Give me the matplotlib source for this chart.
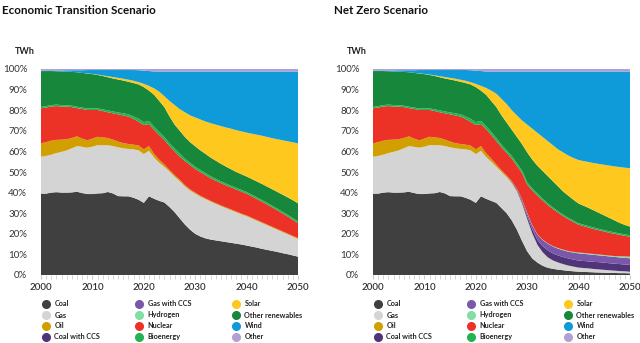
import numpy as np
import matplotlib.pyplot as plt

plt.rcParams['font.family'] = ['Lato', 'DejaVu Sans']

# shared history 2000-2021 (share of generation, %)
hist_years = list(range(2000, 2022))
hist_coal = [39.5, 39.5, 40.0, 40.2, 40.0, 40.0, 40.1, 40.4, 39.8, 39.3, 39.3,
             39.6, 39.7, 40.3, 39.6, 38.3, 38.2, 38.2, 37.5, 36.5, 35.0, 38.2]
hist_gas = [17.9, 18.3, 18.4, 19.0, 19.8, 20.5, 21.4, 22.2, 22.4, 22.5, 23.0,
            23.4, 23.3, 22.7, 23.0, 23.7, 23.3, 23.0, 23.5, 24.0, 23.7, 22.1]
hist_oil = [6.5, 6.7, 6.8, 6.4, 5.9, 5.4, 5.0, 4.7, 4.0, 3.6, 3.9,
            4.1, 3.8, 3.5, 3.1, 2.8, 2.5, 2.4, 2.3, 2.3, 2.3, 2.3]
hist_nuclear = [17.0, 16.8, 16.6, 16.4, 16.1, 15.8, 15.0, 13.7, 14.4, 14.7, 13.9,
                13.0, 12.8, 12.5, 12.8, 13.2, 13.5, 13.3, 12.5, 11.6, 11.8, 10.7]
hist_bio = [0.7, 0.7, 0.7, 0.7, 0.7, 0.7, 0.7, 0.7, 0.7, 0.7, 0.8,
            0.8, 0.8, 0.9, 0.9, 0.9, 1.0, 1.1, 1.2, 1.4, 1.4, 1.5]
hist_oren = [17.4, 17.0, 16.5, 16.2, 16.3, 16.3, 16.4, 16.7, 16.8, 17.0, 16.6,
             16.2, 16.2, 16.1, 16.0, 16.0, 15.9, 15.8, 16.2, 16.7, 17.0, 14.7]
hist_solar = [0.0, 0.0, 0.0, 0.0, 0.0, 0.0, 0.0, 0.0, 0.0, 0.1, 0.1,
              0.2, 0.3, 0.5, 0.7, 0.8, 0.9, 1.0, 1.1, 1.1, 1.6, 2.3]
hist_wind = [0.2, 0.3, 0.3, 0.4, 0.5, 0.7, 0.8, 1.0, 1.3, 1.6, 1.9,
             2.2, 2.6, 3.0, 3.4, 3.8, 4.2, 4.7, 5.2, 5.8, 6.4, 7.2]
hist_other = [0.8, 0.7, 0.7, 0.7, 0.7, 0.6, 0.6, 0.6, 0.6, 0.5, 0.5,
              0.5, 0.5, 0.5, 0.5, 0.5, 0.5, 0.5, 0.5, 0.6, 0.8, 1.0]

proj_years = list(range(2022, 2051))

# Economic Transition 2022-2050
et_coal = [37.0, 36.0, 35.2, 33.0, 30.5, 27.5, 24.5, 22.0, 20.0, 18.7, 17.8, 17.2, 16.8, 16.4, 16.0,
           15.6, 15.2, 14.8, 14.3, 13.8, 13.3, 12.7, 12.2, 11.7, 11.2, 10.6, 10.1, 9.5, 8.9]
et_gas = [20.0, 18.5, 17.3, 17.2, 17.2, 18.0, 18.5, 19.0, 19.5, 19.3, 19.0, 18.4, 17.7, 17.0, 16.4,
          15.8, 15.2, 14.6, 14.2, 13.6, 13.0, 12.5, 11.9, 11.3, 10.7, 10.2, 9.6, 9.1, 8.6]
et_oil = [1.8, 1.5, 1.1, 0.8, 0.8, 0.7, 0.6, 0.6, 0.5, 0.5, 0.4, 0.4, 0.4, 0.4, 0.4,
          0.4, 0.4, 0.4, 0.4, 0.4, 0.4, 0.4, 0.4, 0.4, 0.4, 0.4, 0.4, 0.4, 0.4]
et_nuclear = [11.7, 12.0, 12.0, 11.6, 11.5, 11.3, 11.7, 11.8, 11.5, 11.5, 11.3, 11.0, 10.9, 10.8, 10.7,
              10.7, 10.7, 10.7, 10.6, 10.4, 10.2, 10.0, 9.7, 9.4, 9.1, 8.7, 8.3, 7.8, 7.3]
et_bio = [1.5, 1.5, 1.4, 1.4, 1.5, 1.5, 1.2, 1.1, 1.1, 1.0, 1.0, 1.0, 0.9, 0.9, 0.9,
          0.8, 0.8, 0.8, 0.8, 0.8, 0.8, 0.8, 0.8, 0.8, 0.8, 0.8, 0.8, 0.8, 0.8]
et_oren = [15.5, 15.0, 14.5, 13.0, 11.5, 11.0, 10.5, 10.0, 9.9, 9.5, 9.3, 9.0, 8.8, 8.5, 8.2,
           8.0, 7.7, 7.6, 7.5, 7.6, 7.7, 7.8, 7.9, 8.0, 8.1, 8.3, 8.5, 8.7, 8.8]
et_solar = [3.1, 4.5, 5.3, 7.5, 9.5, 10.5, 12.0, 13.0, 14.0, 15.0, 15.7, 16.7, 17.5, 18.3, 19.0,
            19.7, 20.3, 20.8, 21.3, 22.0, 22.7, 23.4, 24.1, 24.8, 25.6, 26.4, 27.2, 28.1, 29.1]
et_wind = [8.2, 9.8, 12.0, 14.3, 16.3, 18.3, 19.8, 21.3, 22.3, 23.3, 24.3, 25.1, 25.8, 26.5, 27.2,
           27.8, 28.5, 29.1, 29.7, 30.2, 30.7, 31.2, 31.8, 32.4, 32.9, 33.4, 33.9, 34.4, 34.9]
et_other = [1.2] * 29
et_zero = [0.0] * 29

# Net Zero 2022-2050
nz_coal = [37.0, 36.0, 35.0, 32.5, 30.0, 26.5, 22.0, 16.5, 11.5, 8.0, 6.0, 4.5, 3.5, 3.0, 2.6,
           2.3, 2.0, 1.8, 1.6, 1.5, 1.4, 1.3, 1.2, 1.1, 1.0, 1.0, 0.9, 0.9, 0.8]
nz_gas = [20.3, 19.0, 17.5, 17.5, 17.5, 18.0, 18.5, 18.0, 15.5, 12.0, 8.5, 6.5, 5.0, 4.0, 3.4,
          2.9, 2.5, 2.2, 1.9, 1.8, 1.7, 1.6, 1.5, 1.4, 1.3, 1.1, 1.0, 0.9, 0.8]
nz_oil = [1.8, 1.5, 1.1, 0.8, 0.7, 0.6, 0.5, 0.3, 0.2, 0.2, 0.1, 0.1, 0.1, 0.1, 0.1,
          0.1, 0.1, 0.1, 0.1, 0.1, 0.1, 0.0, 0.0, 0.0, 0.0, 0.0, 0.0, 0.0, 0.0]
nz_coal_ccs = [0.0, 0.0, 0.0, 0.0, 0.0, 0.2, 0.5, 0.8, 1.3, 1.8, 2.4, 2.9, 3.4, 3.4, 3.4,
               3.4, 3.4, 3.4, 3.4, 3.4, 3.4, 3.5, 3.5, 3.5, 3.4, 3.4, 3.4, 3.3, 3.3]
nz_gas_ccs = [0.0, 0.0, 0.0, 0.0, 0.1, 0.3, 0.5, 1.0, 1.5, 2.0, 2.5, 3.0, 3.2, 3.3, 3.3,
              3.3, 3.3, 3.4, 3.5, 3.5, 3.4, 3.4, 3.3, 3.3, 3.3, 3.3, 3.2, 3.2, 3.2]
nz_hydrogen = [0.0, 0.0, 0.0, 0.0, 0.0, 0.0, 0.0, 0.1, 0.2, 0.2, 0.2, 0.2, 0.2, 0.2, 0.3,
               0.3, 0.3, 0.3, 0.4, 0.4, 0.4, 0.4, 0.4, 0.4, 0.4, 0.4, 0.6, 0.7, 0.8]
nz_nuclear = [11.7, 11.5, 11.4, 11.2, 11.0, 10.9, 11.0, 12.8, 13.7, 16.8, 18.8, 19.0, 18.6, 18.0, 17.2,
              16.3, 15.5, 14.5, 13.5, 13.0, 12.6, 12.1, 11.8, 11.4, 11.1, 10.8, 10.4, 10.0, 9.7]
nz_bio = [1.5, 1.5, 1.5, 1.3, 1.3, 1.3, 1.3, 1.2, 1.1, 1.0, 1.0, 0.8, 0.8, 0.8, 0.7,
          0.7, 0.7, 0.7, 0.7, 0.7, 0.7, 0.7, 0.7, 0.7, 0.7, 0.7, 0.7, 0.7, 0.7]
nz_oren = [15.2, 15.0, 15.0, 14.2, 13.4, 12.7, 12.7, 12.8, 14.5, 14.0, 13.5, 13.5, 13.2, 12.7, 12.0,
           11.2, 10.7, 10.1, 9.6, 9.2, 8.8, 8.3, 7.7, 7.1, 6.5, 5.8, 5.1, 4.6, 4.2]
nz_solar = [3.3, 5.0, 6.5, 8.0, 9.0, 9.5, 10.5, 11.5, 13.5, 15.0, 16.0, 16.5, 17.0, 17.5, 18.0,
            19.0, 19.5, 20.3, 21.1, 21.7, 22.3, 23.0, 23.8, 24.6, 25.4, 26.2, 27.1, 27.8, 28.3]
nz_wind = [8.0, 9.3, 10.8, 13.3, 15.8, 18.8, 21.3, 23.8, 25.8, 27.8, 29.8, 31.8, 33.8, 35.8, 37.8,
           39.3, 40.8, 42.0, 43.0, 43.5, 44.0, 44.5, 44.9, 45.3, 45.7, 46.1, 46.4, 46.7, 47.0]
nz_other = [1.2] * 29

labels = ['Coal', 'Gas', 'Oil', 'Coal with CCS', 'Gas with CCS', 'Hydrogen',
          'Nuclear', 'Bioenergy', 'Other renewables', 'Solar', 'Wind', 'Other']
colors = ['#404040', '#d4d4d4', '#d29f00', '#4f3479', '#7b57a9', '#7fdfa6',
          '#ec3127', '#1fb552', '#16873b', '#fec81f', '#0f9bd9', '#b1a0d6']
legend_order = ['Coal', 'Gas', 'Oil', 'Coal with CCS', 'Gas with CCS', 'Hydrogen',
                'Nuclear', 'Bioenergy', 'Solar', 'Other renewables', 'Wind', 'Other']

hist_zero = [0.0] * len(hist_years)
years = hist_years + proj_years

et_series = [hist_coal + et_coal, hist_gas + et_gas, hist_oil + et_oil,
             hist_zero + et_zero, hist_zero + et_zero, hist_zero + et_zero,
             hist_nuclear + et_nuclear, hist_bio + et_bio, hist_oren + et_oren,
             hist_solar + et_solar, hist_wind + et_wind, hist_other + et_other]
nz_series = [hist_coal + nz_coal, hist_gas + nz_gas, hist_oil + nz_oil,
             hist_zero + nz_coal_ccs, hist_zero + nz_gas_ccs, hist_zero + nz_hydrogen,
             hist_nuclear + nz_nuclear, hist_bio + nz_bio, hist_oren + nz_oren,
             hist_solar + nz_solar, hist_wind + nz_wind, hist_other + nz_other]

fig = plt.figure(figsize=(6.4, 3.43), dpi=100)
W, H = 640, 343


def panel(x0, series, title):
    ax = fig.add_axes([x0 / W, 68 / H, 257 / W, 206 / H])
    ax.stackplot(years, series, colors=colors, linewidth=0)
    ax.set_xlim(2000, 2050)
    ax.set_ylim(0, 100)
    for s in ax.spines.values():
        s.set_visible(False)
    ax.set_xticks(range(2000, 2051, 10))
    ax.set_xticks(range(2000, 2051), minor=True)
    ax.tick_params(axis='x', which='both', length=3, color='#cccccc', pad=3,
                   labelsize=7, labelcolor='#333333')
    ax.set_yticks(range(0, 101, 10))
    ax.set_yticklabels([f'{v}%' for v in range(0, 101, 10)])
    ax.tick_params(axis='y', length=0, pad=10, labelsize=7, labelcolor='#333333')
    for t in ax.get_xticklabels():
        t.set_fontweight('semibold')
    fig.text((x0 - 39) / W, 1 - 10 / H, title, fontsize=8.4, fontweight='bold',
             ha='left', va='center', color='#111111')
    fig.text((x0 - 26) / W, 1 - 52 / H, 'TWh', fontsize=6.5, fontweight='bold',
             ha='left', va='center', color='#222222')
    # legend, three columns of four
    col_x = [x0 + 5, x0 + 98, x0 + 195]
    row_y = [304, 315, 326, 336.5]
    for i, name in enumerate(legend_order):
        cx = col_x[i // 4]
        cy = row_y[i % 4]
        fig.lines.append(plt.Line2D([cx / W], [1 - cy / H], marker='o', markersize=5.5,
                                    color=colors[labels.index(name)], transform=fig.transFigure))
        fig.text((cx + 8.5) / W, 1 - cy / H, name, fontsize=5.2, fontweight='bold',
                 ha='left', va='center', color='#222222')
    return ax


panel(41, et_series, 'Economic Transition Scenario')
panel(373, nz_series, 'Net Zero Scenario')

fig.savefig('out.png', dpi=100)
